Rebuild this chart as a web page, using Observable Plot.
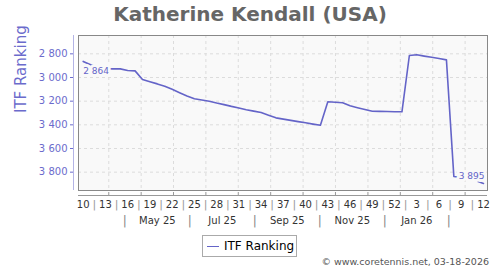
<!DOCTYPE html>
<html><head><meta charset="utf-8">
<script src="https://cdn.jsdelivr.net/npm/d3@7"></script>
<script src="https://cdn.jsdelivr.net/npm/@observablehq/plot@0.6"></script>
<style>
body{margin:0;background:#fff;font-family:"DejaVu Sans",sans-serif}
#wrap{position:relative;width:500px;height:270px;overflow:hidden}
#title{position:absolute;left:0;top:2px;width:500px;text-align:center;font-weight:bold;font-size:20px;line-height:24px;color:#666}
#legend{position:absolute;left:202px;top:235px;width:93px;height:20px;border:1px solid #aaa;background:#fff}
#legend .sw{position:absolute;left:4px;top:10px;width:12px;height:0;border-top:1.5px solid #6464c8}
#legend .lt{position:absolute;left:21px;top:0;line-height:20px;font-size:12px;color:#000}
#copy{position:absolute;right:11px;top:256px;font-size:9.5px;line-height:12px;color:#555}
svg text.ytl{letter-spacing:0.8px}
</style></head>
<body>
<div id="wrap">
<div id="chart"></div>
<div id="title">Katherine Kendall (USA)</div>
<div id="legend"><div class="sw"></div><div class="lt">ITF Ranking</div></div>
<div id="copy">©  www.coretennis.net, 03-18-2026</div>
</div>
<script>
// weekly ITF ranking, week index 0 = week 10 (2025) ... 54 = week 12 (2026)
const ranks = [2864,2893,2910,2925,2927,2927,2941,2944,3017,3036,3054,3074,3100,3128,3156,3180,3190,3200,3216,3229,3244,3257,3272,3284,3296,3319,3341,3352,3362,3373,3383,3394,3404,3205,3209,3213,3239,3255,3270,3285,3286,3287,3289,3290,2814,2808,2819,2829,2840,2851,3836,3845,3858,3872,3895];
const weekLabels = ["10","13","16","19","22","25","28","31","34","37","40","43","46","49","52","3","6","9","12"];
const monthLabels = ["May 25","Jul 25","Sep 25","Nov 25","Jan 26"];
const monthBounds = [5.62,14.39,23.15,31.92,40.69,49.32];
const gridWeeks = [3.45,7.82,12.18,16.55,20.92,25.29,29.66,34.03,38.41,42.78,47.15,51.52];
const yTicks = [2800,3000,3200,3400,3600,3800];

const lineColor = "#6464c8";
const axisColor = "#6b6bcc";
const xDom = [-0.634, 54.54];
const yDom = [3955, 2645];
const weekPos = weekLabels.map((_, k) => 3 * k);
const weekSeps = weekPos.slice(1).map(p => p - 1.5);
const monthMid = monthLabels.map((_, k) => (monthBounds[k] + monthBounds[k + 1]) / 2);
const fmt = d => d3.format(",")(d).replace(",", " ");
const n = ranks.length;

const chart = Plot.plot({
  width: 500, height: 270,
  marginLeft: 78, marginRight: 13, marginTop: 35, marginBottom: 80,
  style: {fontFamily: "DejaVu Sans, sans-serif", background: "transparent"},
  x: {type: "linear", domain: xDom},
  y: {type: "linear", domain: yDom},
  marks: [
    Plot.frame({fill: "#f9f9f9"}),
    Plot.ruleY(yTicks, {stroke: "#dcdcdc", strokeDasharray: "3,3"}),
    Plot.ruleX(gridWeeks, {stroke: "#dcdcdc", strokeDasharray: "3,3"}),
    Plot.line(ranks, {x: (d, i) => i, y: d => d, stroke: lineColor, strokeWidth: 1.6}),
    Plot.text([ranks[0]], {x: 0, y: d => d, text: d => fmt(d), dx: 0, dy: 10, textAnchor: "start", fill: lineColor, stroke: "#f9f9f9", strokeWidth: 6, fontSize: 9}),
    Plot.text([ranks[n - 1]], {x: n - 1, y: d => d, text: d => fmt(d), dx: 1, dy: -7.5, textAnchor: "end", fill: lineColor, stroke: "#f9f9f9", strokeWidth: 6, fontSize: 9}),
    Plot.frame({stroke: "#888"}),
    Plot.ruleX([xDom[0]], {y1: yDom[0], y2: yDom[1], dx: -5, stroke: "#b4b4e6"}),
    Plot.axisY(yTicks, {tickSize: 3, dx: -5, tickPadding: 3, tickFormat: fmt, color: axisColor, fontSize: 10, className: "ytl"}),
    Plot.text(["ITF Ranking"], {frameAnchor: "left", dx: -57, rotate: -90, fontSize: 15, fill: axisColor}),
    Plot.ruleY([yDom[0]], {x1: xDom[0], x2: xDom[1], dy: 5, stroke: "#999"}),
    Plot.axisX(gridWeeks, {tickSize: 3, dy: 2, tickFormat: () => "", stroke: "#999"}),
    Plot.text(weekLabels, {x: (d, k) => weekPos[k], text: d => d, frameAnchor: "bottom", dy: 14, lineAnchor: "middle", fontSize: 10, fill: "#333"}),
    Plot.text(weekSeps, {x: d => d, text: () => "|", frameAnchor: "bottom", dy: 14, lineAnchor: "middle", fontSize: 11, fill: "#999"}),
    Plot.text(monthBounds, {x: d => d, text: () => "|", frameAnchor: "bottom", dy: 30.5, lineAnchor: "middle", fontSize: 12, fill: "#888"}),
    Plot.text(monthLabels, {x: (d, k) => monthMid[k], text: d => d, frameAnchor: "bottom", dy: 30.5, lineAnchor: "middle", fontSize: 10, fill: "#333"})
  ]
});
document.getElementById("chart").appendChild(chart);
</script>
</body></html>
